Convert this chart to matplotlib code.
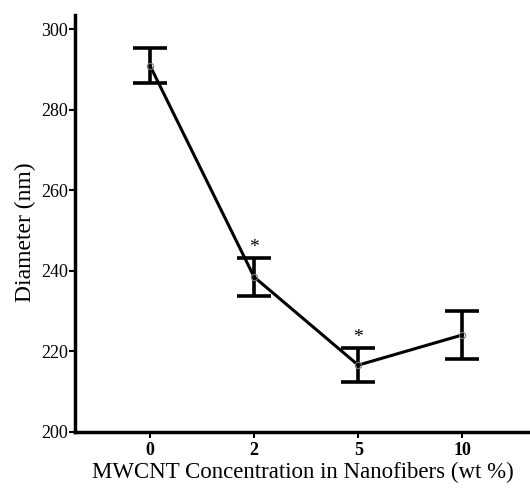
import matplotlib.pyplot as plt

# data
concentrations = ["0", "2", "5", "10"]
diameter = [291.0, 238.5, 216.6, 224.1]
err = [4.3, 4.8, 4.2, 5.9]
signif = [False, True, True, False]

plt.rcParams["font.family"] = ["Liberation Serif", "DejaVu Serif"]

fig = plt.figure(figsize=(5.3, 4.88), dpi=100)
ax = fig.add_axes([0.1415, 0.1148, 0.8585, 0.854])

x = list(range(len(concentrations)))
ax.errorbar(x, diameter, yerr=err, color="black", lw=2.2, elinewidth=2.6,
            capsize=12, capthick=2.6, zorder=3)
ax.plot(x, diameter, "o", ms=4.5, mfc="none", mec="#777777", mew=0.8, zorder=4)

for xi, yi, ei, s in zip(x, diameter, err, signif):
    if s:
        ax.text(xi, yi + ei + 0.5, "*", ha="center", va="bottom", fontsize=14)

ax.set_xlim(-0.72, 3.65)
ax.set_ylim(200, 303.5)
ax.set_xticks(x)
ax.set_xticklabels(concentrations, fontweight="bold", fontsize=13)
ax.set_yticks([200, 220, 240, 260, 280, 300])
ax.tick_params(axis="y", labelsize=13, width=1.5, length=4, direction="out", pad=1)
ax.tick_params(axis="x", width=1.5, length=4, direction="out", pad=3)

for side in ["top", "right"]:
    ax.spines[side].set_visible(False)
for side in ["left", "bottom"]:
    ax.spines[side].set_linewidth(2.5)

ax.set_xlabel("MWCNT Concentration in Nanofibers (wt %)", fontsize=16.5, labelpad=2)
ax.set_ylabel("Diameter (nm)", fontsize=17)
ax.yaxis.set_label_coords(-0.085, 0.48)

fig.savefig("out.png", dpi=100)
